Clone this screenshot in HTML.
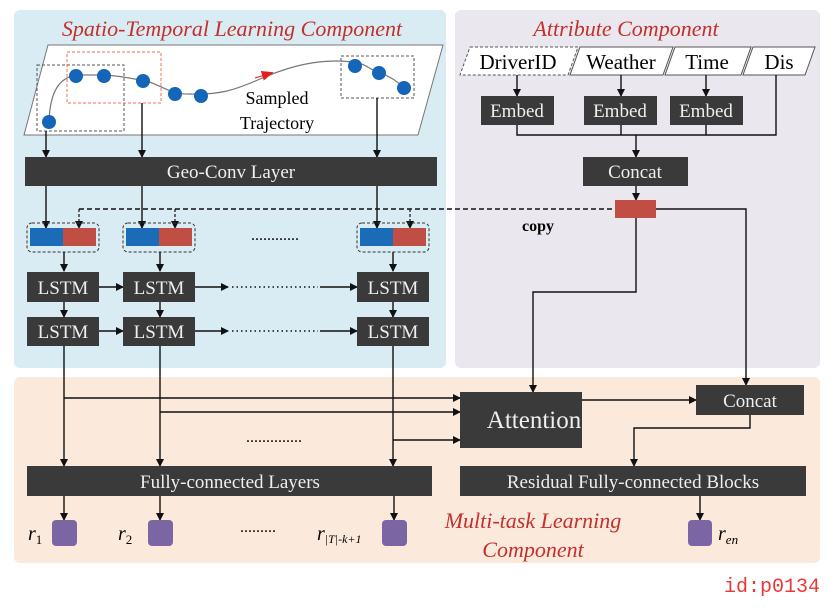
<!DOCTYPE html>
<html><head><meta charset="utf-8"><style>body{margin:0;background:#fff}svg{display:block}</style></head><body>
<svg width="839" height="609" viewBox="0 0 839 609" xmlns="http://www.w3.org/2000/svg" font-family="Liberation Serif, serif">
<defs>
<marker id="a" markerWidth="8" markerHeight="8" refX="7" refY="4" orient="auto" markerUnits="userSpaceOnUse"><path d="M0,0 L8,4 L0,8 z" fill="#111"/></marker>
<marker id="r" markerWidth="12" markerHeight="10" refX="6" refY="5" orient="auto" markerUnits="userSpaceOnUse"><path d="M0,0 L12,5 L0,10 z" fill="#e21f1f"/></marker>
</defs>
<rect x="14" y="10" width="432" height="358" rx="6" fill="#d9ecf3"/>
<rect x="455" y="10" width="365" height="358" rx="6" fill="#eae7ee"/>
<rect x="14" y="377" width="806" height="186" rx="6" fill="#fbe9dc"/>
<text x="232" y="36" text-anchor="middle" font-size="22" font-style="italic" fill="#c3302d">Spatio-Temporal Learning Component</text>
<text x="626" y="36" text-anchor="middle" font-size="22" font-style="italic" fill="#c3302d">Attribute Component</text>
<text x="533" y="528" text-anchor="middle" font-size="22" font-style="italic" fill="#c3302d">Multi-task Learning</text>
<text x="533" y="557" text-anchor="middle" font-size="22" font-style="italic" fill="#c3302d">Component</text>
<polygon points="48,45 443,45 418,135 24,135" fill="#fff" stroke="#777" stroke-width="1"/>
<rect x="37" y="65" width="87" height="66" fill="none" stroke="#555" stroke-dasharray="3,2"/>
<rect x="67" y="52" width="94" height="51" fill="none" stroke="#f07050" stroke-dasharray="3,2"/>
<rect x="341" y="56" width="73" height="42" fill="none" stroke="#555" stroke-dasharray="3,2"/>
<path d="M49,122 C50,90 60,78 76,75 L104,75 C125,76 135,80 143,80 C160,84 170,95 190,94 C220,95 235,90 260,79 C290,66 320,58 353,62 C365,63 370,70 380,73 C395,78 402,86 404,88" fill="none" stroke="#777" stroke-width="1.2"/>
<path d="M255,78 L268,74" stroke="#e21f1f" marker-end="url(#r)"/>
<g fill="#1565b8"><circle cx="49" cy="122" r="7"/><circle cx="76" cy="76" r="7"/><circle cx="104" cy="76" r="7"/><circle cx="143" cy="81" r="7"/><circle cx="175" cy="94" r="7"/><circle cx="201" cy="96" r="7"/><circle cx="355" cy="66" r="7"/><circle cx="379" cy="73" r="7"/><circle cx="404" cy="88" r="7"/></g>
<text x="277" y="104" text-anchor="middle" font-size="18">Sampled</text>
<text x="277" y="129" text-anchor="middle" font-size="18">Trajectory</text>
<g stroke="#111" stroke-width="1.4" fill="none" marker-end="url(#a)">
<line x1="46" y1="131" x2="46" y2="157"/><line x1="142" y1="103" x2="142" y2="157"/><line x1="377" y1="98" x2="377" y2="157"/>
<line x1="46" y1="186" x2="46" y2="228"/><line x1="142" y1="186" x2="142" y2="228"/><line x1="377" y1="186" x2="377" y2="228"/>
</g>
<rect x="25" y="157" width="412" height="29" fill="#3a3a3a"/>
<text x="231" y="178" text-anchor="middle" font-size="19" fill="#eee">Geo-Conv Layer</text>
<path d="M79,209 L615,209" stroke="#111" stroke-width="1.4" stroke-dasharray="5,3" fill="none"/>
<g stroke="#111" stroke-width="1.2" stroke-dasharray="3,2" fill="none" marker-end="url(#a)">
<line x1="79" y1="209" x2="79" y2="228"/><line x1="175" y1="209" x2="175" y2="228"/><line x1="410" y1="209" x2="410" y2="228"/>
</g>
<text x="538" y="231" text-anchor="middle" font-size="16" font-weight="bold">copy</text>
<g>
<rect x="27" y="223" width="72" height="29" rx="5" fill="none" stroke="#333" stroke-dasharray="3,2"/>
<rect x="30" y="228" width="33" height="18" fill="#1a6bb8"/><rect x="63" y="228" width="33" height="18" fill="#c04e44"/>
<rect x="123" y="223" width="72" height="29" rx="5" fill="none" stroke="#333" stroke-dasharray="3,2"/>
<rect x="126" y="228" width="33" height="18" fill="#1a6bb8"/><rect x="159" y="228" width="33" height="18" fill="#c04e44"/>
<rect x="357" y="223" width="72" height="29" rx="5" fill="none" stroke="#333" stroke-dasharray="3,2"/>
<rect x="360" y="228" width="33" height="18" fill="#1a6bb8"/><rect x="393" y="228" width="33" height="18" fill="#c04e44"/>
</g>
<text x="275" y="240" text-anchor="middle" font-size="16">............</text>
<g stroke="#111" stroke-width="1.4" fill="none" marker-end="url(#a)">
<line x1="64" y1="252" x2="64" y2="271"/><line x1="160" y1="252" x2="160" y2="271"/><line x1="393" y1="252" x2="393" y2="271"/>
<line x1="64" y1="302" x2="64" y2="317"/><line x1="160" y1="302" x2="160" y2="317"/><line x1="393" y1="302" x2="393" y2="317"/>
<line x1="99" y1="287" x2="123" y2="287"/><line x1="195" y1="287" x2="228" y2="287"/><line x1="320" y1="287" x2="357" y2="287"/>
<line x1="99" y1="331" x2="123" y2="331"/><line x1="195" y1="331" x2="228" y2="331"/><line x1="320" y1="331" x2="357" y2="331"/>
</g>
<line x1="232" y1="287" x2="318" y2="287" stroke="#111" stroke-width="1.5" stroke-dasharray="1.5,3"/>
<line x1="232" y1="331" x2="318" y2="331" stroke="#111" stroke-width="1.5" stroke-dasharray="1.5,3"/>
<g fill="#3a3a3a">
<rect x="27" y="272" width="72" height="30"/><rect x="123" y="272" width="72" height="30"/><rect x="357" y="272" width="72" height="30"/>
<rect x="27" y="317" width="72" height="29"/><rect x="123" y="317" width="72" height="29"/><rect x="357" y="317" width="72" height="29"/>
</g>
<g font-size="19" fill="#eee" text-anchor="middle">
<text x="63" y="294">LSTM</text><text x="159" y="294">LSTM</text><text x="393" y="294">LSTM</text>
<text x="63" y="338">LSTM</text><text x="159" y="338">LSTM</text><text x="393" y="338">LSTM</text>
</g>
<polygon points="470,47 578,47 568,75 460,75" fill="#fff" stroke="#555" stroke-dasharray="3,2"/>
<polygon points="580,47 673,47 663,75 570,75" fill="#fff" stroke="#555"/>
<polygon points="675,47 751,47 741,75 665,75" fill="#fff" stroke="#555"/>
<polygon points="753,47 815,47 805,75 743,75" fill="#fff" stroke="#555"/>
<g font-size="21" text-anchor="middle"><text x="518" y="69">DriverID</text><text x="621" y="69">Weather</text><text x="707" y="69">Time</text><text x="779" y="69">Dis</text></g>
<g stroke="#111" stroke-width="1.4" fill="none">
<line x1="517" y1="75" x2="517" y2="96" marker-end="url(#a)"/><line x1="621" y1="75" x2="621" y2="96" marker-end="url(#a)"/><line x1="706" y1="75" x2="706" y2="96" marker-end="url(#a)"/>
<polyline points="517,124 517,135 776,135 776,75"/><line x1="621" y1="124" x2="621" y2="135"/><line x1="706" y1="124" x2="706" y2="135"/>
<line x1="636" y1="135" x2="636" y2="157" marker-end="url(#a)"/>
<line x1="636" y1="186" x2="636" y2="200" marker-end="url(#a)"/>
<polyline points="656,209 746,209 746,385" marker-end="url(#a)"/>
<polyline points="636,218 636,292 533,292 533,392" marker-end="url(#a)"/>
</g>
<g fill="#3a3a3a"><rect x="481" y="96" width="73" height="29"/><rect x="584" y="96" width="73" height="29"/><rect x="670" y="96" width="73" height="29"/><rect x="583" y="157" width="105" height="29"/></g>
<g font-size="19" fill="#eee" text-anchor="middle"><text x="517" y="117">Embed</text><text x="620" y="117">Embed</text><text x="706" y="117">Embed</text><text x="635" y="178">Concat</text></g>
<rect x="615" y="200" width="41" height="18" fill="#c04e44"/>
<g stroke="#111" stroke-width="1.4" fill="none" marker-end="url(#a)">
<line x1="64" y1="346" x2="64" y2="466"/><line x1="160" y1="346" x2="160" y2="466"/><line x1="393" y1="346" x2="393" y2="466"/>
<line x1="64" y1="398" x2="460" y2="398"/><line x1="160" y1="412" x2="460" y2="412"/><line x1="393" y1="440" x2="460" y2="440"/>
<line x1="582" y1="400" x2="696" y2="400"/>
<polyline points="750,415 750,428 634,428 634,466"/>
<line x1="64" y1="496" x2="64" y2="520"/><line x1="160" y1="496" x2="160" y2="520"/><line x1="394" y1="496" x2="394" y2="520"/><line x1="700" y1="496" x2="700" y2="520"/>
</g>
<text x="274" y="442" text-anchor="middle" font-size="16">..............</text>
<rect x="460" y="392" width="122" height="56" fill="#3a3a3a"/>
<text x="534" y="428" text-anchor="middle" font-size="25" fill="#eee">Attention</text>
<rect x="696" y="385" width="108" height="30" fill="#3a3a3a"/>
<text x="750" y="407" text-anchor="middle" font-size="19" fill="#eee">Concat</text>
<rect x="27" y="466" width="405" height="30" fill="#3a3a3a"/>
<text x="230" y="488" text-anchor="middle" font-size="19" fill="#eee">Fully-connected Layers</text>
<rect x="460" y="466" width="346" height="30" fill="#3a3a3a"/>
<text x="633" y="488" text-anchor="middle" font-size="19" fill="#eee">Residual Fully-connected Blocks</text>
<g fill="#7b65a3"><rect x="52" y="520" width="25" height="26" rx="4"/><rect x="148" y="520" width="25" height="26" rx="4"/><rect x="382" y="520" width="25" height="26" rx="4"/><rect x="688" y="520" width="24" height="26" rx="4"/></g>
<g font-style="italic" font-size="20">
<text x="28" y="540">r<tspan font-size="13" font-style="normal" dy="4">1</tspan></text>
<text x="118" y="540">r<tspan font-size="13" font-style="normal" dy="4">2</tspan></text>
<text x="317" y="540">r<tspan font-size="12" dy="3">|T|-k+1</tspan></text>
<text x="718" y="540">r<tspan font-size="13" dy="4">en</tspan></text>
</g>
<text x="258" y="532" text-anchor="middle" font-size="16">.........</text>
<text x="820" y="592" text-anchor="end" font-family="Liberation Mono, monospace" font-size="20" fill="#e8393a">id:p0134</text>
</svg>
</body></html>
